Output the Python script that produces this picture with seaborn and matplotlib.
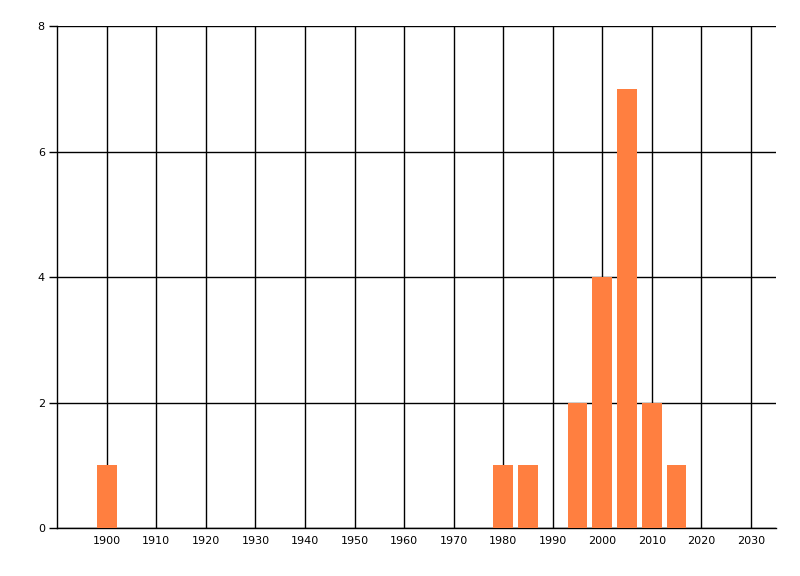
import pandas as pd
import numpy as np
import matplotlib
matplotlib.use("Agg")
import matplotlib.pyplot as plt
import seaborn as sns

# bar data
years = [1900, 1980, 1985, 1995, 2000, 2005, 2010, 2015]
counts = [1, 1, 1, 2, 4, 7, 2, 1]
x_ticks = list(range(1900, 2031, 10))
y_ticks = [0, 2, 4, 6, 8]

bar_color = "#FF7F40"


def main():
    data = pd.DataFrame({"year": years, "count": counts})

    sns.set_style("white")
    plt.rcParams["font.family"] = ["DejaVu Sans"]

    fig = plt.figure(figsize=(8, 5.76), dpi=100)
    ax = fig.add_axes([0.0716, 0.0833, 0.898, 0.8707])

    sns.barplot(data=data, x="year", y="count", native_scale=True,
                width=0.8, color=bar_color, saturation=1, linewidth=0,
                edgecolor=bar_color, ax=ax, zorder=3)

    ax.set_xlim(1890, 2035)
    ax.set_ylim(0, 8)
    ax.set_xticks(x_ticks)
    ax.set_yticks(y_ticks)
    ax.set_xticklabels([str(t) for t in x_ticks])
    ax.set_xlabel("")
    ax.set_ylabel("")

    ax.grid(True, color="black", linewidth=1.0)
    ax.set_axisbelow(True)

    for side in ["top", "right"]:
        ax.spines[side].set_visible(False)
    for side in ["left", "bottom"]:
        ax.spines[side].set_color("black")
        ax.spines[side].set_linewidth(1.0)

    ax.tick_params(axis="x", length=0, pad=6, labelsize=8, labelcolor="black")
    ax.tick_params(axis="y", length=6, width=1, color="black", pad=3,
                   labelsize=8, labelcolor="black", left=True)

    fig.savefig("out.png", dpi=100)


if __name__ == "__main__":
    main()
